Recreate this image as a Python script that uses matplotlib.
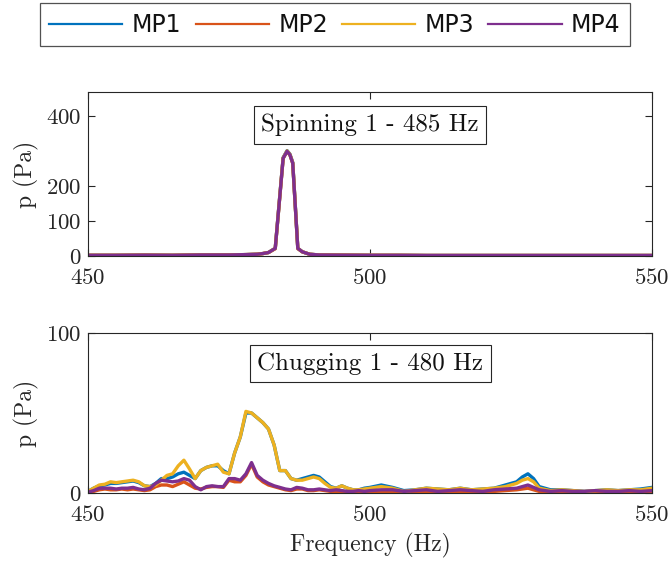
import matplotlib
matplotlib.use("Agg")
import matplotlib.pyplot as plt

# ---------------- data ----------------
series_names = ["MP1", "MP2", "MP3", "MP4"]
colors = ["#0072BD", "#D95319", "#EDB120", "#7E2F8E"]

# Spinning 1 - 485 Hz
spin_f = [450, 455, 460, 465, 470, 475, 478, 480, 481, 482, 483.2, 484.6, 485.3,
          485.8, 486.3, 487.2, 488, 489.3, 491, 495, 500, 505, 510, 520, 530, 540, 550]
spin_mp1 = [2, 2, 2.5, 2, 3, 3, 4, 5, 7, 10, 22, 282, 302, 292, 268, 22, 12, 5, 3, 2.5, 2, 2, 1.5, 1.5, 1.5, 1.5, 1.5]
spin_mp2 = [2, 2, 2.5, 2, 3, 3, 4, 5, 7, 10, 21, 280, 300, 290, 266, 21, 12, 5, 3, 2.5, 2, 2, 1.5, 1.5, 1.5, 1.5, 1.5]
spin_mp3 = [2, 2, 2.5, 2, 3, 3, 4, 5, 7, 10, 22, 281, 301, 291, 267, 22, 12, 5, 3, 2.5, 2, 2, 1.5, 1.5, 1.5, 1.5, 1.5]
spin_mp4 = [2, 2, 2.5, 2, 3, 3, 4, 5, 7, 10, 22, 280, 300, 290, 266, 22, 12, 5, 3, 2.5, 2, 2, 1.5, 1.5, 1.5, 1.5, 1.5]

# Chugging 1 - 480 Hz
chug_f = [450, 451, 452, 453, 454, 455, 456, 457, 458, 459, 460, 461, 462, 463, 464, 465,
          466, 467, 468, 469, 470, 471, 472, 473, 474, 475, 476, 477, 478, 479, 480, 481,
          482, 483, 484, 485, 486, 487, 488, 489, 490, 491, 492, 493, 494, 495, 496, 497,
          498, 499, 500, 502, 504, 506, 508, 510, 512, 514, 516, 518, 520, 522, 524, 526,
          527, 528, 529, 530, 532, 534, 536, 538, 540, 542, 544, 546, 548, 550]
chug_mp3 = [1, 3, 5, 5.5, 7, 6.5, 7, 7.5, 8, 7, 4.5, 4, 5, 8, 11, 12,
            17, 20.5, 15, 9, 14, 16, 17, 18, 13, 12, 25, 35, 51, 50, 47, 44,
            40, 30, 14, 14, 9, 8, 8, 9, 10, 9, 6, 3.5, 3, 4.5, 3, 2,
            2, 2.5, 3, 4, 3, 1, 2, 3, 2.5, 2, 3, 2, 2.5, 3, 4, 6,
            8, 9, 7, 3, 1.5, 2, 1.5, 1, 1.5, 2, 1.5, 2, 2, 3]
chug_mp1 = [1, 3, 4.5, 5, 6, 6, 6.5, 7, 7.5, 6.5, 4.5, 4, 6, 9, 9, 10,
            12, 13, 11, 9, 14, 16, 17, 17, 14, 12, 25, 35, 50, 50, 47, 44,
            40, 30, 14, 14, 9, 8, 9, 10, 11, 10, 7, 4, 3, 4.5, 3, 2,
            2, 3, 3.5, 5, 3.5, 1.5, 2, 3, 2.5, 2, 3, 2, 2.5, 3, 5, 7,
            10, 12, 9, 4, 2, 2, 1.5, 1, 1.5, 2, 1.5, 2, 2.5, 3.5]
chug_mp2 = [0.5, 1, 2, 2.5, 2, 2, 2.5, 2, 2.5, 2, 1.5, 2, 4, 5, 5, 4,
            5.5, 7, 5, 3, 2.5, 3.5, 4, 4, 3.5, 8, 7, 7, 11, 18, 10, 7,
            5, 4, 3, 2, 1.5, 2.5, 2.5, 1.5, 1.5, 2, 1.5, 1, 1, 1, 0.5, 0.5,
            1, 0.5, 1, 1, 1, 0.5, 1, 1, 0.5, 1, 1, 1, 0.5, 1, 1.5, 2,
            2.5, 3, 2, 1, 0.5, 1, 0.5, 0.5, 1, 0.5, 0.5, 1, 0.5, 1]
chug_mp4 = [0.5, 1.5, 3, 3, 3, 2.5, 3, 3, 3.5, 2.5, 2, 3, 6, 8, 7.5, 7,
            7.5, 9, 8, 4, 2, 4, 4.5, 4, 4, 9, 9, 8, 12, 19, 11, 8,
            6, 4.5, 3.5, 2.5, 2, 3.5, 3, 2, 2, 2.5, 2, 1.5, 2, 1.5, 1, 1,
            1.5, 1, 1.5, 2, 2, 1, 1.5, 2, 1, 1.5, 2, 1.5, 1, 2, 2.5, 3,
            4, 5, 3.5, 2, 1, 1.5, 1, 1, 1.5, 1, 1, 1.5, 1, 1.5]

spin_series = [spin_mp1, spin_mp2, spin_mp3, spin_mp4]
chug_series = [chug_mp1, chug_mp2, chug_mp3, chug_mp4]

spin_title = "Spinning 1 - 485 Hz"
chug_title = "Chugging 1 - 480 Hz"
xticks = [450, 500, 550]
spin_yticks = [0, 100, 200, 400]
chug_yticks = [0, 100]

# ---------------- figure ----------------
plt.rcParams['axes.formatter.use_mathtext'] = True
serif = ['cmr10', 'DejaVu Serif']
axcol = '#262626'
txtcol = '#262626'

fig = plt.figure(figsize=(6.7, 5.63), dpi=100)
W, H = 670, 563
def rect(l, t, r, b):
    return [l / W, 1 - b / H, (r - l) / W, (b - t) / H]

ax1 = fig.add_axes(rect(88, 92, 652, 256))
ax2 = fig.add_axes(rect(88, 333, 652, 493))

handles = []
for ax, xs, ys_list, ylim, yt, title, ty in [
        (ax1, spin_f, spin_series, (0, 470), spin_yticks, spin_title, 375),
        (ax2, chug_f, chug_series, (0, 100), chug_yticks, chug_title, 81)]:
    for name, col, ys in zip(series_names, colors, ys_list):
        h, = ax.plot(xs, ys, color=col, lw=2.4, label=name)
        if ax is ax1:
            handles.append(h)
    ax.set_xlim(450, 550)
    ax.set_ylim(*ylim)
    ax.set_xticks(xticks)
    ax.set_yticks(yt)
    ax.tick_params(direction='in', length=5, width=0.8, color=axcol,
                   top=True, right=True, labelsize=16.5, labelcolor=txtcol)
    ax.tick_params(axis='x', pad=8.5)
    ax.tick_params(axis='y', pad=5)
    for lab in ax.get_xticklabels() + ax.get_yticklabels():
        lab.set_fontfamily(serif)
    for sp in ax.spines.values():
        sp.set_color(axcol)
        sp.set_linewidth(0.8)
    ax.set_ylabel("p (Pa)", fontfamily=serif, fontsize=17, color=txtcol, labelpad=5)
    ax.text(500, ty, title, ha='center', va='center', fontfamily=serif, fontsize=18,
            color='#111111',
            bbox=dict(boxstyle='square,pad=0.3', fc='white', ec=axcol, lw=0.8))

ax2.set_xlabel("Frequency (Hz)", fontfamily=serif, fontsize=17, color=txtcol, labelpad=6)

leg = fig.legend(handles=handles, loc='upper center', bbox_to_anchor=(0.5, 0.994),
                 ncol=4, frameon=True, fancybox=False, edgecolor=axcol,
                 prop={'family': 'DejaVu Sans', 'size': 17}, handlelength=3.1,
                 columnspacing=0.6, handletextpad=0.4, borderpad=0.4, borderaxespad=0.0)
leg.get_frame().set_linewidth(0.9)
for lh in leg.get_lines():
    lh.set_linewidth(1.6)
for t in leg.get_texts():
    t.set_color('#111111')

fig.savefig("out.png", dpi=100)
